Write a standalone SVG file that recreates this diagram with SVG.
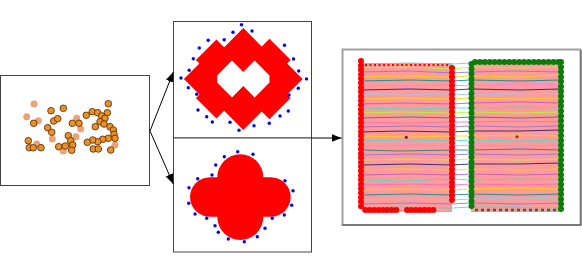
<svg xmlns="http://www.w3.org/2000/svg" width="582" height="274" viewBox="0 0 582 274">
<style>
.box{fill:#fff;stroke:#444;stroke-width:1}
.dk{fill:#e8922a;stroke:#6a2e05;stroke-width:0.9}
.ft{fill:#e58c55;opacity:0.8}
.bd{fill:#0000ff}
.ln{fill:none;stroke-width:1;opacity:0.85}
.edge{stroke:#000;stroke-width:1;fill:none}
.rd{stroke:#ff0000;stroke-width:6;stroke-linecap:round;stroke-dasharray:0 4.4;fill:none}
.gd{stroke:#0a7d0a;stroke-width:6;stroke-linecap:round;stroke-dasharray:0 4.9;fill:none}
</style>
<defs>
<marker id="ah" markerUnits="userSpaceOnUse" markerWidth="10" markerHeight="8" refX="10" refY="4" orient="auto">
<path d="M0,0 L10,4 L0,8 Z" fill="#000"/>
</marker>
</defs>
<rect width="582" height="274" fill="#fff"/>

<g id="points">
<rect class="box" x="0.5" y="75.5" width="149" height="110" stroke="#555"/>
<circle class="ft" cx="34" cy="104" r="3.5"/>
<circle class="ft" cx="26.7" cy="116.7" r="3.5"/>
<circle class="ft" cx="38.3" cy="120.7" r="3.5"/>
<circle class="ft" cx="52.3" cy="139" r="3.5"/>
<circle class="ft" cx="76.7" cy="118.3" r="3.5"/>
<circle class="ft" cx="80.7" cy="129" r="3.5"/>
<circle class="ft" cx="76" cy="136.7" r="3.5"/>
<circle class="ft" cx="63.3" cy="151" r="3.5"/>
<circle class="ft" cx="36.7" cy="144" r="3.5"/>
<circle class="ft" cx="115" cy="145" r="3.5"/>
<circle class="dk" cx="51" cy="110.7" r="3.3"/>
<circle class="dk" cx="63.3" cy="108.3" r="3.3"/>
<circle class="dk" cx="33.7" cy="123.3" r="3.3"/>
<circle class="dk" cx="53.7" cy="121" r="3.3"/>
<circle class="dk" cx="57.7" cy="118.7" r="3.3"/>
<circle class="dk" cx="47.7" cy="127.7" r="3.3"/>
<circle class="dk" cx="51.7" cy="132.3" r="3.3"/>
<circle class="dk" cx="28.3" cy="140.7" r="3.3"/>
<circle class="dk" cx="29.3" cy="147.7" r="3.3"/>
<circle class="dk" cx="33.3" cy="147.7" r="3.3"/>
<circle class="dk" cx="41" cy="147.7" r="3.3"/>
<circle class="dk" cx="58.7" cy="146.7" r="3.3"/>
<circle class="dk" cx="72.3" cy="123.3" r="3.3"/>
<circle class="dk" cx="79" cy="123.3" r="3.3"/>
<circle class="dk" cx="68.3" cy="135.7" r="3.3"/>
<circle class="dk" cx="70.7" cy="140.7" r="3.3"/>
<circle class="dk" cx="72.7" cy="145" r="3.3"/>
<circle class="dk" cx="71.7" cy="150.3" r="3.3"/>
<circle class="dk" cx="65.3" cy="146" r="3.3"/>
<circle class="dk" cx="86.3" cy="115.3" r="3.3"/>
<circle class="dk" cx="92.3" cy="111.7" r="3.3"/>
<circle class="dk" cx="97.7" cy="112.7" r="3.3"/>
<circle class="dk" cx="108.3" cy="103.7" r="3.3"/>
<circle class="dk" cx="107.3" cy="112.7" r="3.3"/>
<circle class="dk" cx="101.7" cy="116" r="3.3"/>
<circle class="dk" cx="105" cy="118.3" r="3.3"/>
<circle class="dk" cx="100" cy="121.7" r="3.3"/>
<circle class="dk" cx="104" cy="124" r="3.3"/>
<circle class="dk" cx="95.3" cy="126.7" r="3.3"/>
<circle class="dk" cx="110" cy="126.7" r="3.3"/>
<circle class="dk" cx="113.3" cy="130" r="3.3"/>
<circle class="dk" cx="114" cy="134.3" r="3.3"/>
<circle class="dk" cx="115" cy="138.3" r="3.3"/>
<circle class="dk" cx="108.3" cy="138.3" r="3.3"/>
<circle class="dk" cx="102.7" cy="139.3" r="3.3"/>
<circle class="dk" cx="97.7" cy="141.7" r="3.3"/>
<circle class="dk" cx="92.7" cy="140" r="3.3"/>
<circle class="dk" cx="87.3" cy="142.3" r="3.3"/>
<circle class="dk" cx="93.3" cy="149" r="3.3"/>
<circle class="dk" cx="98.3" cy="149" r="3.3"/>
<circle class="dk" cx="110.7" cy="150" r="3.3"/>
</g>

<g id="shape-top">
<rect class="box" x="173.5" y="21.5" width="138" height="116.5" stroke="#333"/>
<g transform="translate(243.3,79) rotate(-45)">
<path fill="#ff0000" fill-rule="evenodd" d="M36,-36 L36,-10 L47,-10 L47,20 L42,20 L42,42 L20,42 L20,47 L-10,47 L-10,36 L-36,36 L-36,9 L-47,9 L-47,-20 L-42,-20 L-42,-42 L-20,-42 L-20,-47 L9,-47 L9,-36 Z M-16,-21 L5,-21 L5,-5 L21,-5 L21,16 L16,21 L-5,21 L-5,5 L-21,5 L-21,-16 Z"/>
</g>
<g class="bd">
<circle cx="241.5" cy="24.8" r="1.7"/><circle cx="233" cy="32.2" r="1.7"/><circle cx="252" cy="31" r="1.7"/>
<circle cx="208.2" cy="40.3" r="1.7"/><circle cx="224.2" cy="39.7" r="1.7"/><circle cx="199.3" cy="48" r="1.7"/>
<circle cx="284.5" cy="45.3" r="1.7"/><circle cx="193.3" cy="58.7" r="1.7"/><circle cx="293.5" cy="59" r="1.7"/>
<circle cx="189.2" cy="70.2" r="1.7"/><circle cx="298.7" cy="71" r="1.7"/><circle cx="181" cy="78" r="1.7"/>
<circle cx="306.5" cy="78.9" r="1.7"/><circle cx="188.3" cy="87.7" r="1.7"/><circle cx="298.3" cy="88.3" r="1.7"/>
<circle cx="196.7" cy="94.3" r="1.7"/><circle cx="289" cy="95" r="1.7"/><circle cx="198" cy="110" r="1.7"/>
<circle cx="288.3" cy="111" r="1.7"/><circle cx="206.7" cy="116.7" r="1.7"/><circle cx="212.3" cy="122" r="1.7"/>
<circle cx="280" cy="116" r="1.7"/><circle cx="269.3" cy="123.3" r="1.7"/><circle cx="230" cy="122.3" r="1.7"/>
<circle cx="254" cy="125.7" r="1.7"/><circle cx="239" cy="130.3" r="1.7"/>
</g>
</g>

<g id="shape-bottom">
<rect class="box" x="173.5" y="138" width="138" height="114" stroke="#333"/>
<rect x="217.3" y="154.3" width="46" height="85.7" rx="23" fill="#ff0000"/>
<rect x="190" y="177.3" width="100.7" height="39.4" rx="20" fill="#ff0000"/>
<g class="bd">
<circle cx="237.7" cy="151.7" r="1.7"/><circle cx="224.3" cy="156.7" r="1.7"/><circle cx="253" cy="154.3" r="1.7"/>
<circle cx="215.7" cy="165" r="1.7"/><circle cx="212" cy="175" r="1.7"/><circle cx="197.7" cy="178.7" r="1.7"/>
<circle cx="189" cy="187.7" r="1.7"/><circle cx="188.7" cy="203.3" r="1.7"/><circle cx="195" cy="214" r="1.7"/>
<circle cx="206.7" cy="218.3" r="1.7"/><circle cx="215" cy="225.7" r="1.7"/><circle cx="218.3" cy="232.3" r="1.7"/>
<circle cx="228.3" cy="239" r="1.7"/><circle cx="244.3" cy="241.7" r="1.7"/><circle cx="257.3" cy="236.7" r="1.7"/>
<circle cx="265" cy="228.3" r="1.7"/><circle cx="272.3" cy="218.3" r="1.7"/><circle cx="284.3" cy="215" r="1.7"/>
<circle cx="291.7" cy="205.3" r="1.7"/><circle cx="293" cy="190.7" r="1.7"/><circle cx="285" cy="180.7" r="1.7"/>
</g>
</g>

<g id="trajectories">
<rect x="342.5" y="49.5" width="238" height="175.5" fill="#fff" stroke="#a0a0a0" stroke-width="2"/>
<path d="M581,50 V225 H342" fill="none" stroke="#555" stroke-width="1"/>
<rect x="362" y="63" width="90" height="149" fill="#ff9a9a"/>
<rect x="471" y="62" width="90" height="150" fill="#ff9a9a"/>
<g class="ln">
<path stroke="#40e0d0" d="M360,64 L410,63 L452,64 L471,63 L520,62 L560,63"/>
<path stroke="#adff2f" d="M360,68 L405,67 L452,69 L471,67 L520,68 L560,67"/>
<path stroke="#9370db" d="M360,72 L410,71 L452,73 L471,72 L515,71 L560,72"/>
<path stroke="#ffd700" d="M360,77 L400,76 L452,77 L471,76 L520,77 L560,75"/>
<path stroke="#008b8b" d="M360,81 L410,80 L452,81 L471,80 L520,81 L560,80"/>
<path stroke="#ee82ee" d="M360,85 L405,86 L452,85 L471,86 L520,84 L560,85"/>
<path stroke="#191970" d="M360,90 L410,89 L452,90 L471,89 L520,90 L560,89"/>
<path stroke="#87cefa" d="M360,94 L400,95 L452,94 L471,95 L520,94 L560,93"/>
<path stroke="#ffd700" d="M360,99 L410,98 L452,99 L471,98 L520,99 L560,98"/>
<path stroke="#ba55d3" d="M360,104 L405,103 L452,104 L471,103 L520,102 L560,103"/>
<path stroke="#40e0d0" d="M360,108 L410,109 L452,108 L471,108 L520,107 L560,108"/>
<path stroke="#adff2f" d="M360,113 L400,112 L452,113 L471,112 L520,113 L560,112"/>
<path stroke="#008b8b" d="M360,118 L410,117 L452,118 L471,117 L520,118 L560,117"/>
<path stroke="#ff69b4" d="M360,122 L405,123 L452,122 L471,122 L520,121 L560,122"/>
<path stroke="#9370db" d="M360,127 L410,126 L452,127 L471,126 L520,127 L560,126"/>
<path stroke="#191970" d="M360,132 L400,131 L452,132 L471,131 L520,131 L560,130"/>
<path stroke="#ffd700" d="M360,136 L410,137 L452,136 L471,136 L520,135 L560,136"/>
<path stroke="#40e0d0" d="M360,141 L405,140 L452,141 L471,140 L520,141 L560,140"/>
<path stroke="#ee82ee" d="M360,146 L410,145 L452,146 L471,145 L520,146 L560,145"/>
<path stroke="#008b8b" d="M360,150 L400,151 L452,150 L471,150 L520,149 L560,150"/>
<path stroke="#9370db" d="M360,155 L410,154 L452,155 L471,154 L520,155 L560,154"/>
<path stroke="#adff2f" d="M360,160 L405,159 L452,160 L471,159 L520,160 L560,159"/>
<path stroke="#191970" d="M360,165 L410,164 L452,165 L471,164 L520,164 L560,163"/>
<path stroke="#ffd700" d="M360,170 L400,169 L452,170 L471,169 L520,170 L560,169"/>
<path stroke="#ba55d3" d="M360,175 L410,174 L452,175 L471,174 L520,175 L560,174"/>
<path stroke="#40e0d0" d="M360,180 L405,181 L452,179 L471,180 L520,179 L560,180"/>
<path stroke="#ff69b4" d="M360,185 L410,184 L452,185 L471,184 L520,185 L560,184"/>
<path stroke="#ffd700" d="M360,190 L400,189 L452,190 L471,189 L520,188 L560,189"/>
<path stroke="#008b8b" d="M360,195 L410,194 L452,195 L471,194 L520,195 L560,194"/>
<path stroke="#87cefa" d="M360,200 L405,199 L452,200 L471,199 L520,198 L560,199"/>
<path stroke="#9370db" d="M360,204 L410,203 L452,204 L471,203 L520,204 L560,203"/>
<path stroke="#40e0d0" d="M360,208 L400,207 L452,208 L471,207 L520,207 L560,208"/>
</g>
<path d="M365,65 H448" stroke="#ff0000" stroke-width="2" stroke-dasharray="2 2.5" fill="none"/>
<path d="M475,210 H558" stroke="#2e6b2e" stroke-width="2.5" stroke-dasharray="3 3" fill="none"/>
<path class="rd" d="M361,61 V210"/>
<path class="rd" d="M452,68 V204"/>
<path class="rd" d="M365.4,210 H398"/>
<path class="rd" d="M407,210 H436"/>
<path class="gd" d="M471.5,64 V210"/>
<path class="gd" d="M561,62 V211"/>
<path class="gd" d="M475,62 H561"/>
<circle cx="406.3" cy="137.3" r="1.5" fill="#800080"/>
<circle cx="517" cy="136.7" r="1.5" fill="#7b3f00"/>
</g>

<g id="connectors">
<line class="edge" x1="150" y1="131" x2="173.3" y2="72" marker-end="url(#ah)"/>
<line class="edge" x1="150" y1="131" x2="173.3" y2="184" marker-end="url(#ah)"/>
<line class="edge" x1="311.5" y1="138" x2="341.5" y2="138" marker-end="url(#ah)"/>
</g>
</svg>
